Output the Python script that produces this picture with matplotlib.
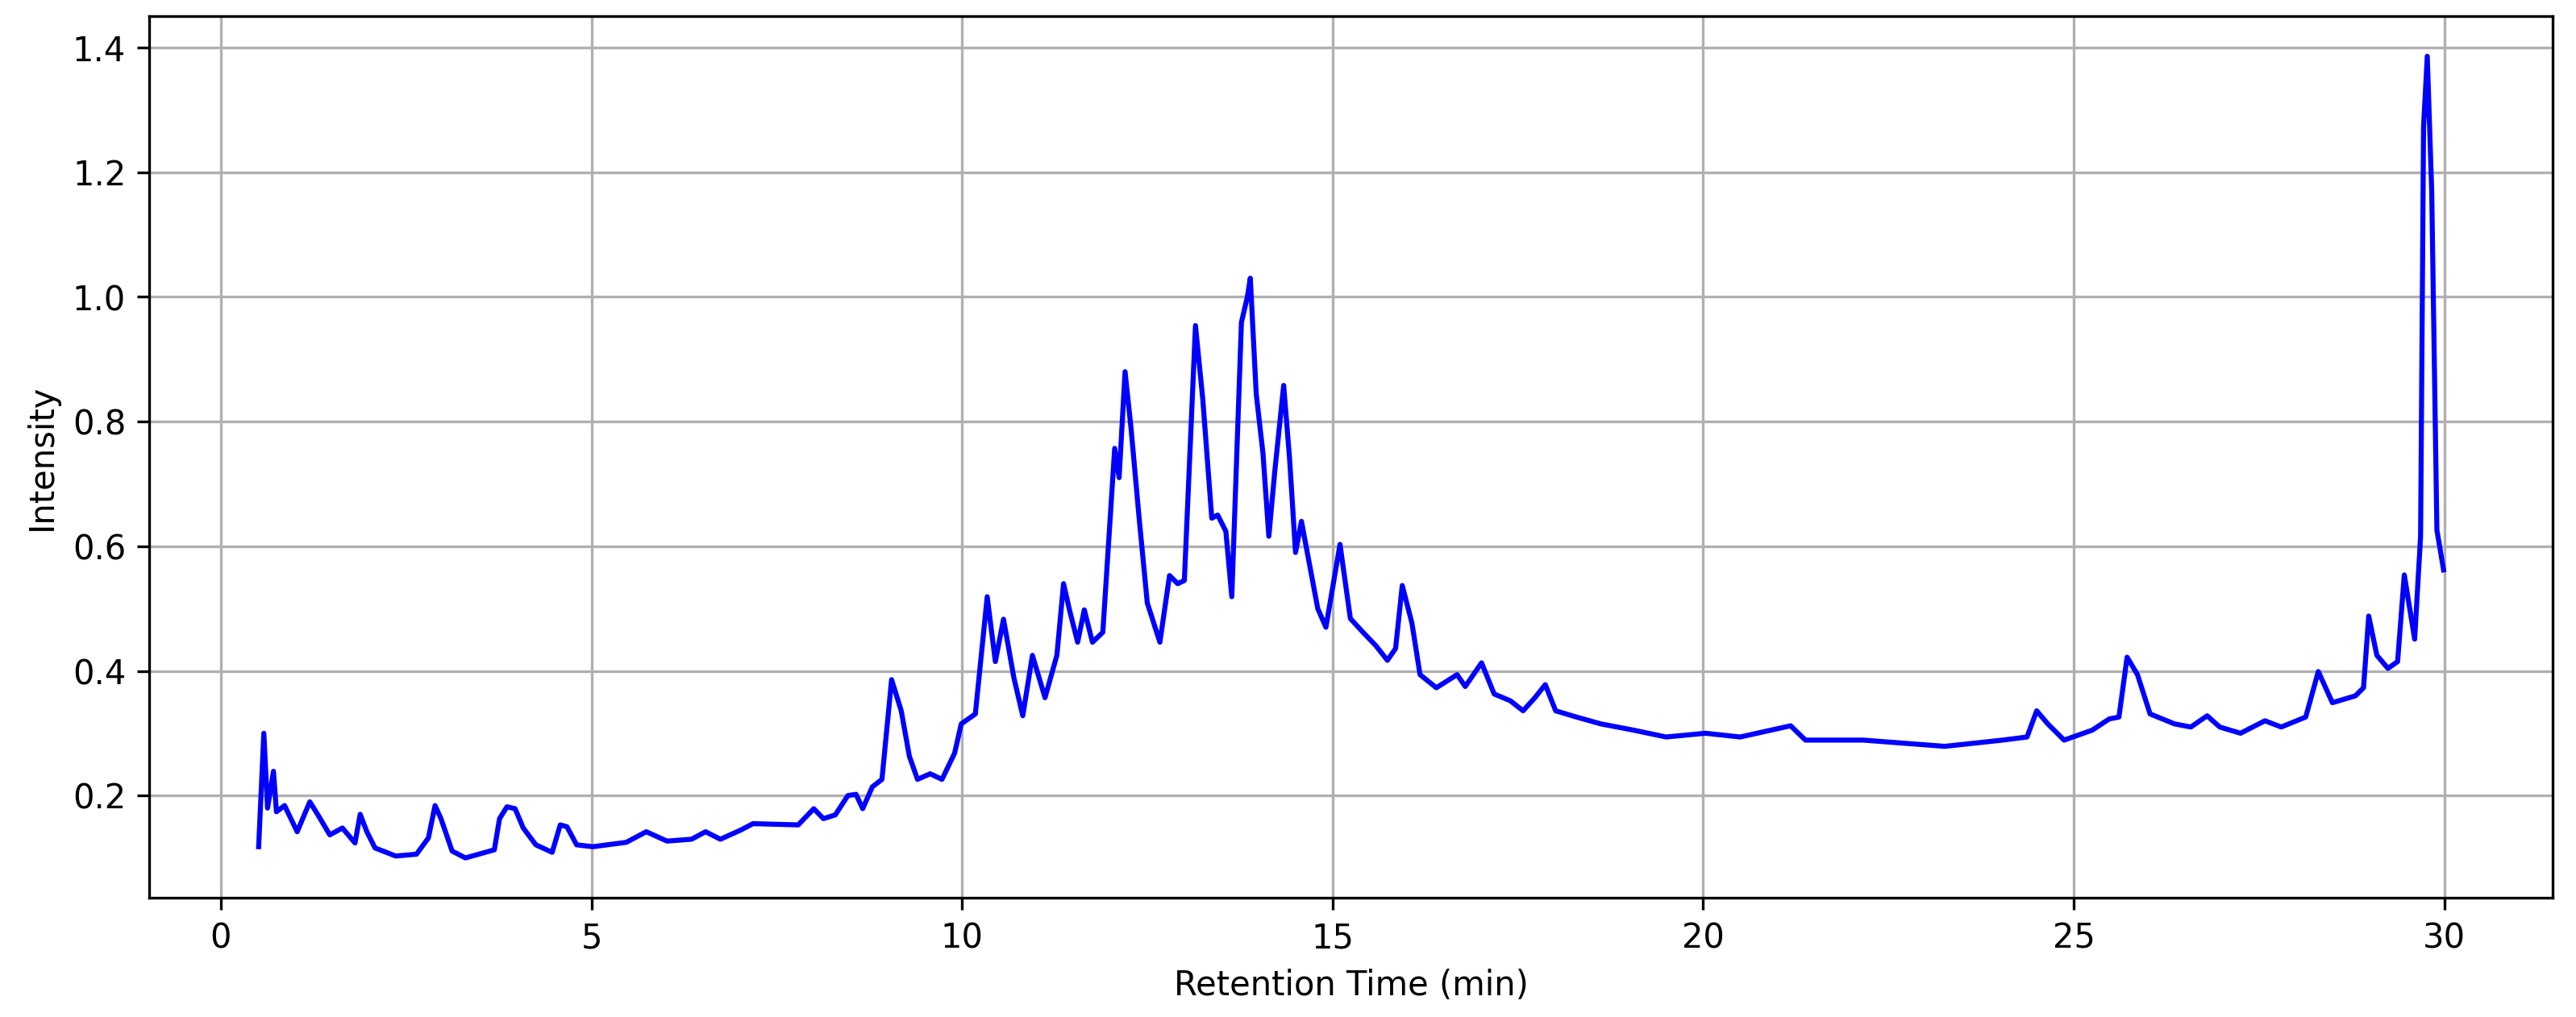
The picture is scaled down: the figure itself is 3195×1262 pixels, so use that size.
import matplotlib
matplotlib.use("Agg")
import matplotlib.pyplot as plt

time_min = [0.51,0.58,0.63,0.71,0.75,0.86,1.03,1.2,1.31,1.47,1.64,1.81,1.88,1.97,2.08,2.36,2.64,2.8,2.89,2.97,3.12,3.3,3.69,3.76,3.86,3.97,4.08,4.25,4.47,4.58,4.67,4.8,5.02,5.47,5.74,6.02,6.35,6.54,6.74,7.02,7.18,7.79,8.0,8.13,8.29,8.46,8.57,8.66,8.79,8.92,9.05,9.18,9.29,9.4,9.57,9.73,9.9,9.99,10.18,10.34,10.45,10.56,10.7,10.82,10.95,11.12,11.28,11.37,11.45,11.56,11.65,11.76,11.9,12.06,12.12,12.2,12.28,12.39,12.5,12.67,12.8,12.91,13.0,13.15,13.25,13.37,13.45,13.56,13.64,13.77,13.85,13.89,13.97,14.06,14.14,14.22,14.34,14.42,14.5,14.58,14.69,14.8,14.91,15.1,15.24,15.41,15.58,15.74,15.85,15.94,16.07,16.18,16.4,16.68,16.79,17.01,17.18,17.4,17.57,17.73,17.87,18.01,18.29,18.62,19.06,19.5,20.03,20.5,21.18,21.38,22.16,22.71,23.26,24.04,24.37,24.5,24.65,24.87,25.25,25.48,25.61,25.72,25.86,26.03,26.36,26.58,26.8,26.97,27.25,27.58,27.8,28.13,28.3,28.49,28.8,28.91,28.98,29.09,29.24,29.37,29.46,29.6,29.68,29.72,29.77,29.83,29.9,29.99]
intensity = [0.118,0.30,0.18,0.239,0.174,0.184,0.142,0.19,0.169,0.137,0.148,0.124,0.17,0.142,0.116,0.103,0.106,0.132,0.184,0.163,0.111,0.10,0.113,0.163,0.182,0.179,0.148,0.121,0.109,0.153,0.15,0.121,0.118,0.125,0.142,0.127,0.13,0.142,0.13,0.145,0.155,0.153,0.179,0.163,0.169,0.2,0.202,0.179,0.214,0.226,0.386,0.336,0.263,0.226,0.235,0.226,0.268,0.315,0.331,0.519,0.415,0.483,0.389,0.328,0.425,0.357,0.425,0.54,0.498,0.446,0.498,0.446,0.462,0.757,0.71,0.88,0.79,0.645,0.509,0.446,0.553,0.54,0.545,0.954,0.834,0.645,0.65,0.624,0.519,0.959,1.0,1.03,0.844,0.75,0.616,0.72,0.858,0.74,0.59,0.64,0.57,0.5,0.47,0.603,0.484,0.462,0.441,0.417,0.436,0.537,0.477,0.394,0.373,0.394,0.375,0.413,0.363,0.352,0.336,0.357,0.378,0.336,0.326,0.315,0.305,0.294,0.3,0.294,0.312,0.289,0.289,0.284,0.279,0.289,0.294,0.336,0.315,0.289,0.305,0.323,0.326,0.422,0.394,0.331,0.315,0.31,0.328,0.31,0.3,0.32,0.31,0.326,0.399,0.349,0.36,0.373,0.488,0.425,0.404,0.415,0.554,0.451,0.616,1.273,1.386,1.17,0.626,0.562]

fig, ax = plt.subplots(figsize=(10.65, 4.207), dpi=300)
ax.plot(time_min, intensity, color="blue", lw=1.5)
ax.set_xlabel("Retention Time (min)")
ax.set_ylabel("Intensity")
ax.grid(True)
fig.subplots_adjust(left=0.058, right=0.991, top=0.984, bottom=0.117)
fig.savefig("out.png", dpi=300)
